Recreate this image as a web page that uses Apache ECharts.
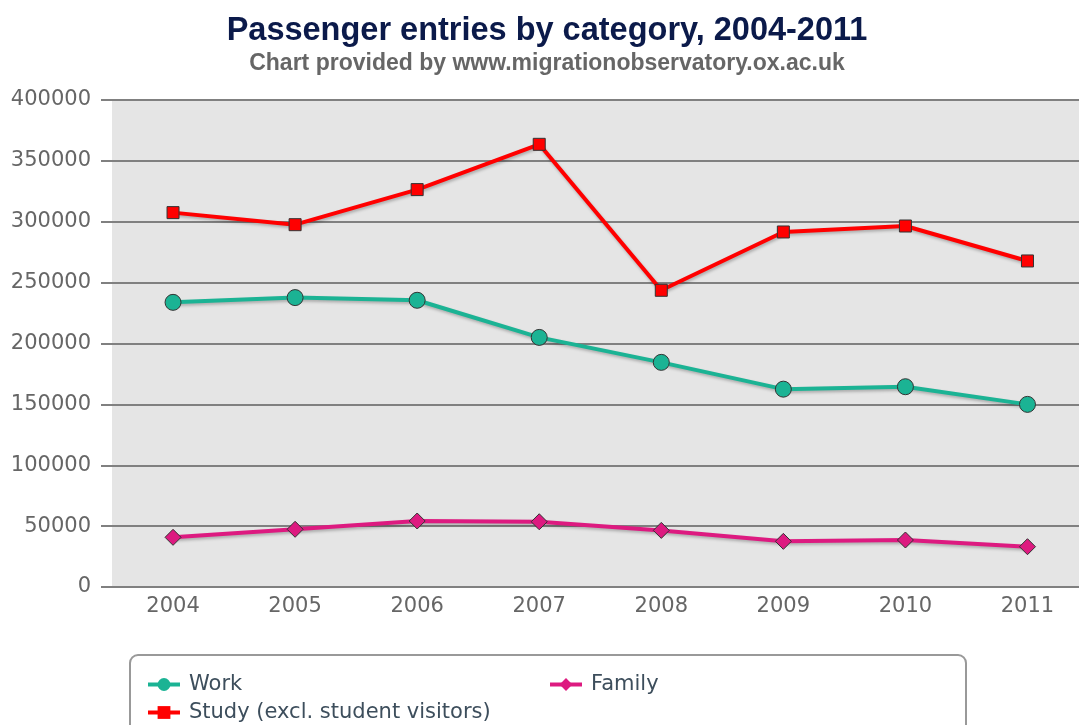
<!DOCTYPE html>
<html>
<head>
<meta charset="utf-8">
<script src="https://cdn.jsdelivr.net/npm/echarts@6/dist/echarts.min.js"></script>
<style>
  html, body { margin: 0; padding: 0; background: #fff; }
  #chart { width: 1079px; height: 725px; }
</style>
</head>
<body>
<div id="chart"></div>
<script>
// values
const years = ["2004", "2005", "2006", "2007", "2008", "2009", "2010", "2011"];
const work = [233800, 237700, 235500, 205000, 184500, 162500, 164500, 150000];
const study = [307500, 297600, 326400, 363600, 243700, 291600, 296500, 267800];
const family = [40800, 47400, 54200, 53600, 46500, 37500, 38600, 33100];

const labelFont = "DejaVu Sans";
const gridGrey = "#808080";

const lineShadow = {
    width: 4,
    shadowColor: "rgba(0,0,0,0.25)",
    shadowBlur: 3,
    shadowOffsetX: 1,
    shadowOffsetY: 2,
};

const legendBase = {
    left: 146,
    itemWidth: 32,
    itemHeight: 16,
    itemGap: 19,
    padding: 0,
    textStyle: {
        fontFamily: labelFont,
        fontSize: 21,
        lineHeight: 20,
        color: "#3d4e5c",
        padding: [0, 0, 0, 4],
    },
    itemStyle: { borderWidth: 0 },
    lineStyle: { width: 4, shadowBlur: 0, shadowOffsetX: 0, shadowOffsetY: 0, shadowColor: "transparent" },
};

const option = {
    animation: false,
    backgroundColor: "#fff",
    title: {
        text: "Passenger entries by category, 2004-2011",
        subtext: "Chart provided by www.migrationobservatory.ox.ac.uk",
        left: 547,
        top: 15,
        textAlign: "center",
        itemGap: 4,
        padding: 0,
        textStyle: {
            fontFamily: "Liberation Sans",
            fontWeight: "bold",
            fontSize: 32.5,
            color: "#0b1a4a",
        },
        subtextStyle: {
            fontFamily: "Liberation Sans",
            fontWeight: "bold",
            fontSize: 23,
            color: "#666",
        },
    },
    graphic: [
        {
            type: "rect",
            z: 0,
            shape: { x: 130, y: 655, width: 836, height: 100, r: 8 },
            style: { fill: "none", stroke: "#999", lineWidth: 2 },
        },
    ],
    legend: [
        Object.assign({}, legendBase, { top: 674, data: ["Work", "Family"], textStyle: Object.assign({}, legendBase.textStyle, { width: 340 }) }),
        Object.assign({}, legendBase, { top: 702, data: ["Study (excl. student visitors)"] }),
    ],
    grid: {
        left: 112,
        top: 100,
        width: 976.5,
        height: 487,
        outerBoundsMode: "none",
        containLabel: false,
        show: true,
        backgroundColor: "#e5e5e5",
        borderWidth: 0,
    },
    xAxis: {
        type: "category",
        data: years,
        boundaryGap: true,
        axisLine: { lineStyle: { color: gridGrey, width: 2 } },
        axisTick: {
            length: 8,
            interval: 0,
            lineStyle: { color: gridGrey, width: 1.5 },
        },
        axisLabel: {
            fontFamily: labelFont,
            fontSize: 21,
            color: "#666",
            margin: 9,
        },
    },
    yAxis: {
        type: "value",
        min: 0,
        max: 400000,
        interval: 50000,
        axisLine: { show: false },
        axisTick: { show: true, length: 11, lineStyle: { color: gridGrey, width: 2 } },
        splitLine: { lineStyle: { color: gridGrey, width: 2 } },
        axisLabel: {
            fontFamily: labelFont,
            fontSize: 21,
            color: "#666",
            margin: 21,
            formatter: (v) => String(v),
        },
    },
    series: [
        {
            name: "Work",
            type: "line",
            data: work,
            symbol: "circle",
            symbolSize: 16,
            color: "#1bb394",
            lineStyle: Object.assign({ color: "#1bb394" }, lineShadow),
            itemStyle: { color: "#1bb394", borderColor: "#333", borderWidth: 1 },
        },
        {
            name: "Study (excl. student visitors)",
            type: "line",
            data: study,
            symbol: "rect",
            symbolSize: 12,
            color: "#ff0000",
            lineStyle: Object.assign({ color: "#ff0000" }, lineShadow),
            itemStyle: { color: "#ff0000", borderColor: "#333", borderWidth: 1 },
        },
        {
            name: "Family",
            type: "line",
            data: family,
            symbol: "diamond",
            symbolSize: 16,
            color: "#dd1a80",
            lineStyle: Object.assign({ color: "#dd1a80" }, lineShadow),
            itemStyle: { color: "#dd1a80", borderColor: "#333", borderWidth: 1 },
        },
    ],
};

const chart = echarts.init(document.getElementById("chart"));
chart.setOption(option);
</script>
</body>
</html>
